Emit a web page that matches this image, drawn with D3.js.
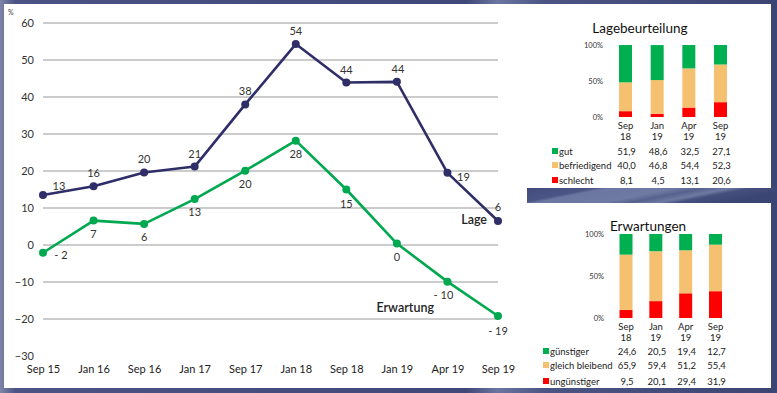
<!DOCTYPE html>
<html><head><meta charset="utf-8">
<script src="https://cdn.jsdelivr.net/npm/d3@7"></script>
<style>body{margin:0;background:#fff}svg{display:block}</style>
</head><body>
<svg id="c" width="777" height="393"></svg>
<script>
// ---- data ----
const periods = ["Sep 15","Jan 16","Sep 16","Jan 17","Sep 17","Jan 18","Sep 18","Jan 19","Apr 19","Sep 19"];
const lageValues = [13.5,15.9,19.6,21.2,38,54.3,43.9,44.1,19.5,6.5];
const lageLabels = ["13","16","20","21","38","54","44","44","19","6"];
const erwValues = [-2.1,6.6,5.7,12.4,20.1,28.2,15,0.4,-9.9,-19.2];
const erwLabels = ["- 2","7","6","13","20","28","15","0","- 10","- 19"];
const yTicks = [60,50,40,30,20,10,0,-10,-20,-30];

const miniCats = [["Sep","18"],["Jan","19"],["Apr","19"],["Sep","19"]];
const lageGut = [51.9,48.6,32.5,27.1];
const lageBefr = [40.0,46.8,54.4,52.3];
const lageSchl = [8.1,4.5,13.1,20.6];
const erwGuen = [24.6,20.5,19.4,12.7];
const erwGleich = [65.9,59.4,51.2,55.4];
const erwUngue = [9.5,20.1,29.4,31.9];
const pctTicks = [0,50,100];

const GREEN="#00a84f", NAVY="#2f2e68", BGREEN="#00b050", BORANGE="#f5c06f", BRED="#ff0000";
const svg = d3.select("#c");
const defs = svg.append("defs");
const g1 = defs.append("linearGradient").attr("id","frame").attr("x1","0").attr("x2","1").attr("y1","0").attr("y2","0");
[[0,"#7d86a8"],[0.02,"#4a5383"],[0.6,"#3f4878"],[0.64,"#6a76a0"],[0.7,"#4a5584"],[1,"#3b4573"]].forEach(s=>g1.append("stop").attr("offset",s[0]).attr("stop-color",s[1]));
const g2 = defs.append("linearGradient").attr("id","band").attr("x1","0").attr("x2","1").attr("y1","0").attr("y2","0.3");
[[0,"#414b7c"],[0.25,"#4b5686"],[0.3,"#6b77a0"],[0.55,"#6e7aa2"],[0.65,"#56618e"],[0.75,"#6f7aa2"],[0.82,"#45507f"],[1,"#3b4573"]].forEach(s=>g2.append("stop").attr("offset",s[0]).attr("stop-color",s[1]));

// frame
svg.append("rect").attr("width",777).attr("height",393).attr("fill","url(#frame)");
svg.append("rect").attr("x",4).attr("y",4).attr("width",767).attr("height",384).attr("fill","#fff");
svg.append("rect").attr("x",527).attr("y",188).attr("width",250).attr("height",15).attr("fill","url(#band)");

const font = "Lato, 'Open Sans', sans-serif";

// ---- main line chart ----
const x = d3.scalePoint().domain(periods).range([43,498]);
const y = d3.scaleLinear().domain([-30,60]).range([356,23]);

const grid = svg.append("g");
grid.selectAll("line").data(yTicks.filter(t=>t>-30)).join("line")
  .attr("x1",43).attr("x2",498).attr("y1",d=>y(d)).attr("y2",d=>y(d))
  .attr("stroke","#9a9a9a").attr("stroke-width",1.2);

const yAxis = svg.append("g").attr("transform","translate(43,0)")
  .call(d3.axisLeft(y).tickValues(yTicks).tickSize(0).tickPadding(9).tickFormat(d3.format("d")));
yAxis.select(".domain").remove();
yAxis.selectAll("text").attr("font-family",font).attr("font-size",11).attr("fill","#333");

const xAxis = svg.append("g").attr("transform","translate(0,362)")
  .call(d3.axisBottom(x).tickSize(0).tickPadding(3));
xAxis.select(".domain").remove();
xAxis.selectAll("text").attr("font-family",font).attr("font-size",11).attr("fill","#222");

svg.append("text").attr("x",8).attr("y",15).text("%").attr("font-family",font).attr("font-size",7).attr("fill","#444");

function series(vals, color){
  const line = d3.line().x((d,i)=>x(periods[i])).y(d=>y(d));
  svg.append("path").datum(vals).attr("d",line).attr("fill","none").attr("stroke",color).attr("stroke-width",2.6).attr("stroke-linejoin","round");
  svg.append("g").selectAll("circle").data(vals).join("circle")
    .attr("cx",(d,i)=>x(periods[i])).attr("cy",d=>y(d)).attr("r",4).attr("fill",color);
}
series(lageValues, NAVY);
series(erwValues, GREEN);

// value labels (offsets)
const lageOff = [[16,-5],[0,-9],[0,-9],[0,-9],[0,-9],[0,-9],[0,-9],[1,-9],[16,8],[0,-10]];
const erwOff = [[18,6],[0,17],[0,17],[0,17],[0,17],[0,17],[0,18],[0,17],[-4,17],[0,19]];
svg.append("g").selectAll("text").data(lageLabels).join("text")
  .attr("x",(d,i)=>x(periods[i])+lageOff[i][0]).attr("y",(d,i)=>y(lageValues[i])+lageOff[i][1])
  .attr("text-anchor","middle").attr("font-family",font).attr("font-size",11).attr("fill","#333").text(d=>d);
svg.append("g").selectAll("text").data(erwLabels).join("text")
  .attr("x",(d,i)=>x(periods[i])+erwOff[i][0]).attr("y",(d,i)=>y(erwValues[i])+erwOff[i][1])
  .attr("text-anchor","middle").attr("font-family",font).attr("font-size",11).attr("fill","#333").text(d=>d);

svg.append("text").attr("x",487).attr("y",224).attr("text-anchor","end").attr("font-family",font)
  .attr("font-size",12.5).attr("font-weight",600).attr("fill","#222").text("Lage");
svg.append("text").attr("x",434).attr("y",312).attr("text-anchor","end").attr("font-family",font)
  .attr("font-size",12.5).attr("font-weight",600).attr("fill","#222").text("Erwartung");

// ---- mini stacked charts ----
function mini(o){
  const sx = d3.scalePoint().domain(d3.range(4)).range(o.xr);
  const sy = d3.scaleLinear().domain([0,100]).range([o.y0,o.y1]);
  svg.append("text").attr("x",o.tx).attr("y",o.ty).attr("text-anchor","middle").attr("font-family",font)
    .attr("font-size",13.5).attr("fill","#111").text(o.title);
  const ax = svg.append("g").attr("transform",`translate(${o.axX},0)`)
    .call(d3.axisLeft(sy).tickValues(pctTicks).tickSize(0).tickPadding(0).tickFormat(d=>d+"%"));
  ax.select(".domain").remove();
  ax.selectAll("text").attr("font-family",font).attr("font-size",7.5).attr("fill","#333");
  const stack = d3.stack().keys([0,1,2])(d3.range(4).map(i=>[o.series[0].vals[i],o.series[1].vals[i],o.series[2].vals[i]]));
  stack.forEach((layer,k)=>{
    svg.append("g").selectAll("rect").data(layer).join("rect")
      .attr("x",(d,i)=>sx(i)-6.5).attr("width",13)
      .attr("y",d=>sy(d[1])).attr("height",d=>sy(d[0])-sy(d[1])).attr("fill",o.series[k].color);
  });
  const cl = svg.append("g");
  miniCats.forEach((c,i)=>{
    c.forEach((t,j)=>cl.append("text").attr("x",sx(i)).attr("y",o.y0+12+j*11).attr("text-anchor","middle")
      .attr("font-family",font).attr("font-size",9.5).attr("fill","#222").text(t));
  });
  [2,1,0].forEach((k,r)=>{
    const s = o.series[k], ry = o.rowY[r];
    svg.append("rect").attr("x",o.legX).attr("y",ry-7).attr("width",6).attr("height",6).attr("fill",s.color);
    svg.append("text").attr("x",o.legX+7).attr("y",ry).attr("font-family",font).attr("font-size",9.5).attr("fill","#222").text(s.name);
    svg.append("g").selectAll("text").data(s.vals).join("text")
      .attr("x",(d,i)=>sx(i)+1).attr("y",ry).attr("text-anchor","middle").attr("font-family",font)
      .attr("font-size",9.5).attr("fill","#222").text(d=>d3.format(".1f")(d).replace(".",","));
  });
}
mini({title:"Lagebeurteilung",tx:640,ty:33,xr:[625.5,720.5],y0:117,y1:45,axX:603,legX:552,rowY:[155,169,184],
  series:[{name:"schlecht",vals:lageSchl,color:BRED},{name:"befriedigend",vals:lageBefr,color:BORANGE},{name:"gut",vals:lageGut,color:BGREEN}]});
mini({title:"Erwartungen",tx:648,ty:231,xr:[626,715.5],y0:318,y1:234,axX:604,legX:543,rowY:[355,369,385],
  series:[{name:"ungünstiger",vals:erwUngue,color:BRED},{name:"gleich bleibend",vals:erwGleich,color:BORANGE},{name:"günstiger",vals:erwGuen,color:BGREEN}]});
</script>
</body></html>
